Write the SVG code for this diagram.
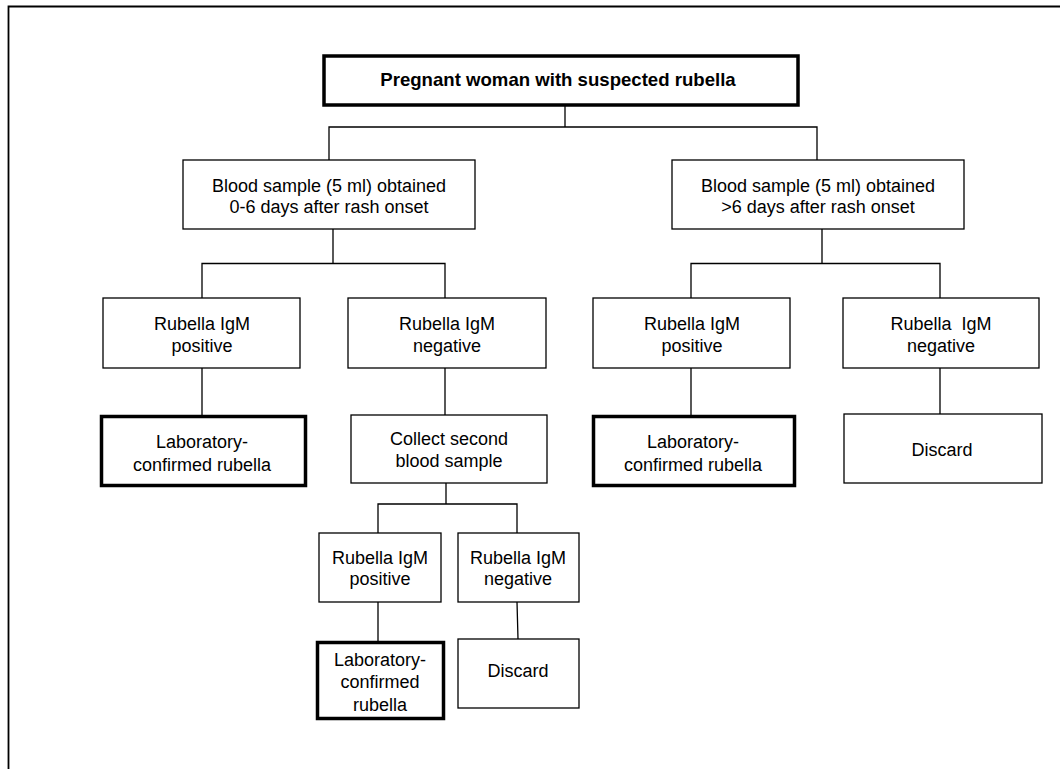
<svg xmlns="http://www.w3.org/2000/svg" width="1060" height="769" viewBox="0 0 1060 769">
<style>
.box{fill:#fff;stroke:#000;stroke-width:1.3}
.thick{fill:#fff;stroke:#000;stroke-width:3.5}
.t{font-family:"Liberation Sans",Arial,sans-serif;font-size:18px;fill:#000;text-anchor:middle}
.b{font-weight:bold;font-size:18.6px}
.con{fill:none;stroke:#000;stroke-width:1.3}
</style>
<rect width="1060" height="769" fill="#fff"/>
<path d="M8.5 769 V6.5 H1060" fill="none" stroke="#000" stroke-width="1.8"/>
<g id="connectors">
<path class="con" d="M565 105 V127 M329 160 V127 H817 V160"/>
<path class="con" d="M333 229 V263.5 M202 298 V263.5 H445 V298"/>
<path class="con" d="M822 229 V263.5 M691 298 V263.5 H940 V298"/>
<path class="con" d="M202 368 V415 M445 368 V415 M691 368 V415 M940 368 V415"/>
<path class="con" d="M446 483 V504 M378 533 V504 H517 V533"/>
<path class="con" d="M378 602 V641 M517 602 L518 639"/>
</g>
<g id="root"><rect class="thick" x="324" y="56" width="474" height="49"/><text class="t b" x="558" y="86">Pregnant woman with suspected rubella</text></g>
<g id="blood1"><rect class="box" x="183" y="160" width="292" height="69"/><text class="t" x="329" y="192">Blood sample (5 ml) obtained</text><text class="t" x="329" y="213">0-6 days after rash onset</text></g>
<g id="blood2"><rect class="box" x="672" y="160" width="292" height="69"/><text class="t" x="818" y="192">Blood sample (5 ml) obtained</text><text class="t" x="818" y="213">&gt;6 days after rash onset</text></g>
<g id="pos1"><rect class="box" x="103" y="298" width="197" height="70"/><text class="t" x="202" y="330">Rubella IgM</text><text class="t" x="202" y="352">positive</text></g>
<g id="neg1"><rect class="box" x="348" y="298" width="198" height="70"/><text class="t" x="447" y="330">Rubella IgM</text><text class="t" x="447" y="352">negative</text></g>
<g id="pos3"><rect class="box" x="593" y="298" width="197" height="70"/><text class="t" x="692" y="330">Rubella IgM</text><text class="t" x="692" y="352">positive</text></g>
<g id="neg3"><rect class="box" x="843" y="298" width="196" height="70"/><text class="t" x="941" y="330" style="white-space:pre" xml:space="preserve">Rubella  IgM</text><text class="t" x="941" y="352">negative</text></g>
<g id="lab1"><rect class="thick" x="101.5" y="416.5" width="204" height="69"/><text class="t" x="202" y="448">Laboratory-</text><text class="t" x="202" y="471">confirmed rubella</text></g>
<g id="collect"><rect class="box" x="351" y="415" width="196" height="68"/><text class="t" x="449" y="445">Collect second</text><text class="t" x="449" y="467">blood sample</text></g>
<g id="lab3"><rect class="thick" x="593.5" y="416.5" width="201" height="69"/><text class="t" x="693" y="448">Laboratory-</text><text class="t" x="693" y="471">confirmed rubella</text></g>
<g id="discard3"><rect class="box" x="844" y="414" width="198" height="69"/><text class="t" x="942" y="456">Discard</text></g>
<g id="pos2"><rect class="box" x="319" y="533" width="122" height="69"/><text class="t" x="380" y="564">Rubella IgM</text><text class="t" x="380" y="585">positive</text></g>
<g id="neg2"><rect class="box" x="458" y="533" width="121" height="69"/><text class="t" x="518" y="564">Rubella IgM</text><text class="t" x="518" y="585">negative</text></g>
<g id="lab2"><rect class="thick" x="317.5" y="642.5" width="126" height="76"/><text class="t" x="380" y="666">Laboratory-</text><text class="t" x="380" y="688">confirmed</text><text class="t" x="380" y="711">rubella</text></g>
<g id="discard2"><rect class="box" x="458" y="639" width="121" height="69"/><text class="t" x="518" y="677">Discard</text></g>
</svg>
